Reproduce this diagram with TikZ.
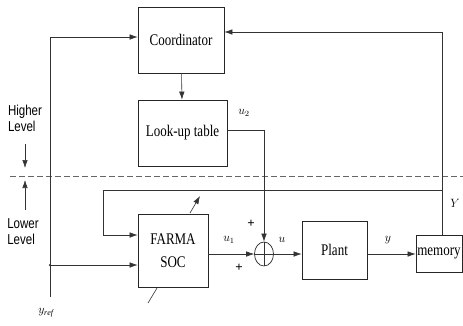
\documentclass[tikz,border=0pt]{standalone}
\usepackage{fontspec}
\setmainfont{Liberation Serif}
\newfontfamily\lvlfont{Liberation Sans}
\usetikzlibrary{arrows.meta,shapes.geometric}
\newcommand{\tallbox}[1]{\scalebox{1}[1.25]{#1}}
\tikzset{
  blk/.style={draw=black!85, line width=0.7pt, fill=white, inner sep=0pt, font=\fontsize{13}{15}\selectfont},
  ln/.style={draw=black!80, line width=0.6pt},
  arr/.style={ln, -{Latex[length=8pt,width=5.5pt]}},
  lbl/.style={font=\fontsize{12}{14}\selectfont, inner sep=0pt},
  lvl/.style={font=\lvlfont\fontsize{11.5}{16}\selectfont, align=left, inner sep=0pt},
  dot/.style={circle, fill=black!80, inner sep=0pt, minimum size=2.5pt}
}
\begin{document}
\begin{tikzpicture}[x=1pt,y=-1pt]
\useasboundingbox (0,0) rectangle (463,325);
% blocks
\node[blk, minimum width=86, minimum height=66] (coord) at (181,40) {\tallbox{Coordinator}};
\node[blk, minimum width=89, minimum height=66] (lut) at (182.5,133) {\tallbox{Look-up table}};
\node[blk, minimum width=70, minimum height=73, align=center] (farma) at (173,250.5) {\tallbox{FARMA}\\[8pt]\tallbox{SOC}};
\node[blk, minimum width=65, minimum height=58] (plant) at (334.5,250) {\tallbox{Plant}};
\node[blk, minimum width=46, minimum height=37] (mem) at (439,253.5) {\tallbox{memory}};
\node[ellipse, draw=black!85, line width=0.7pt, minimum width=19, minimum height=24, inner sep=0pt] (sum) at (264,254) {};
\draw[ln] (sum.north) -- (sum.south) (sum.west) -- (sum.east);
% coordinates
\coordinate (ybot) at (50,297);
\coordinate (ytop) at (50,37);
\coordinate (yj) at (50,265);
\coordinate (fbtop) at (442,32);
\coordinate (fbj) at (442,190);
\coordinate (fbl) at (103,190);
\coordinate (adA) at (148,303);
\coordinate (adB) at (157,288);
\coordinate (adC) at (190,213);
\coordinate (adD) at (200,196);
\coordinate (hlA) at (25,144);
\coordinate (hlB) at (25,168);
\coordinate (llA) at (25,210);
\coordinate (llB) at (25,180);
\coordinate (dsA) at (10,176);
\coordinate (dsB) at (463,176);
% dashed level separator
\draw[black!60, line width=0.5pt, dash pattern=on 6pt off 3pt] (dsA) -- (dsB);
% connectors
\draw[arr] (coord) -- (lut);
\draw[arr] (ybot) -- (ytop) -- ([yshift=3pt]coord.west);
\draw[arr] (yj) -- (farma.west |- yj);
\node[dot] at (yj) {};
\draw[arr] (fbtop |- mem.north) -- (fbtop) -- (coord.east |- fbtop);
\draw[arr] (fbj) -- (fbl) |- ([yshift=15.5pt]farma.west);
\draw[arr] (farma.east |- sum) -- (sum.west);
\draw[arr] ([yshift=3pt]lut.east) -| (sum.north);
\draw[arr] (sum.east) -- (plant.west |- sum.east);
\draw[arr] (plant.east |- sum) -- (mem.west |- sum);
% adaptation slash
\draw[ln] (adA) -- (adB);
\draw[arr] (adC) -- (adD);
% level arrows
\draw[arr] (hlA) -- (hlB);
\draw[arr] (llA) -- (llB);
% labels
\node[lvl] at (25,118) {\tallbox{Higher}\\\tallbox{Level}};
\node[lvl] at (23,232) {\tallbox{Lower}\\\tallbox{Level}};
\node[lbl] at (229,240) {$u_1$};
\node[lbl] at (244,113) {$u_2$};
\node[lbl] at (282,240) {$u$};
\node[lbl] at (388,240) {$y$};
\node[lbl] at (455,203) {$Y$};
\node[lbl] at (46,313) {$y_{\mathit{ref}}$};
\node[font=\bfseries\fontsize{13}{14}\selectfont, inner sep=0pt] at (251,224) {+};
\node[font=\bfseries\fontsize{13}{14}\selectfont, inner sep=0pt] at (239,268) {+};
\end{tikzpicture}
\end{document}
